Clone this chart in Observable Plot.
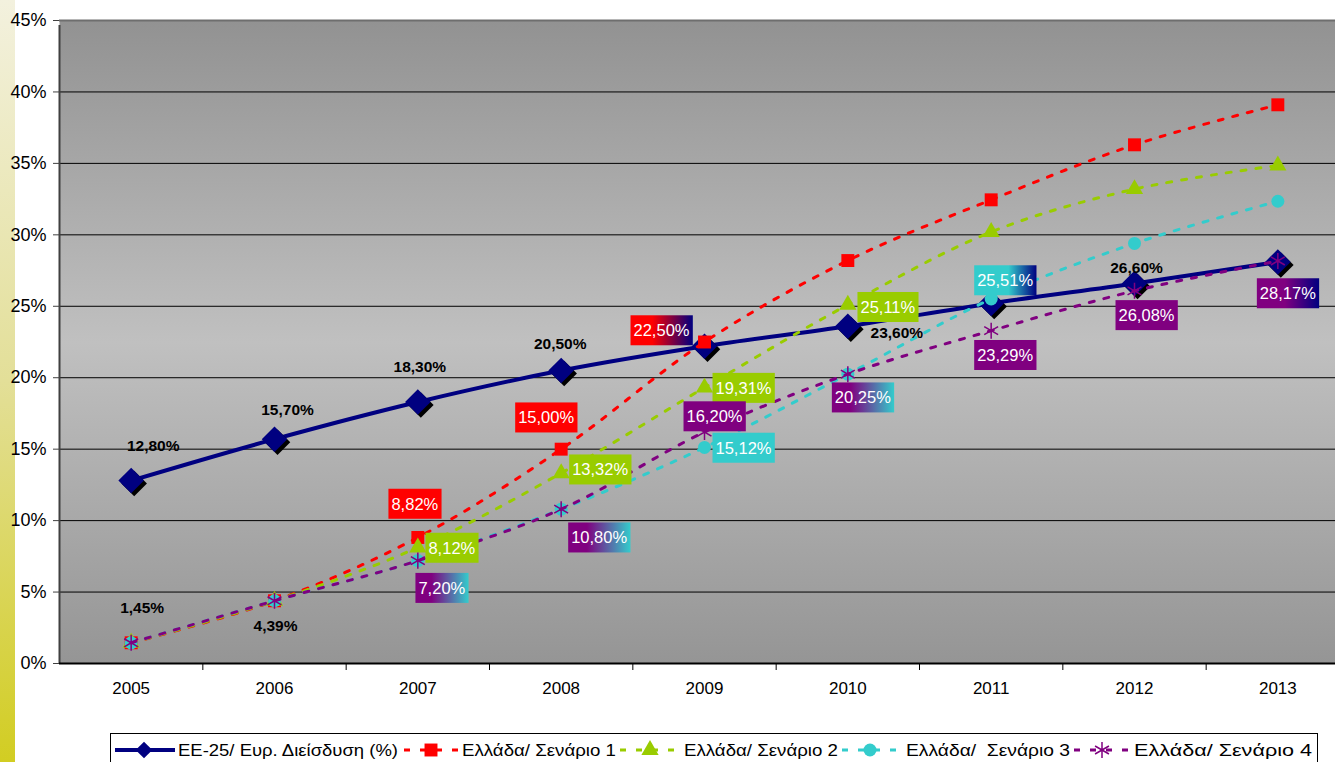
<!DOCTYPE html>
<html><head><meta charset="utf-8">
<script src="https://cdn.jsdelivr.net/npm/d3@7"></script>
<script src="https://cdn.jsdelivr.net/npm/@observablehq/plot@0.6"></script>
<style>
body{margin:0;background:#fff;width:1335px;height:762px;overflow:hidden;position:relative;font-family:"Liberation Sans",Arial,sans-serif}
#strip{position:absolute;left:0;top:0;width:15px;height:762px;background:linear-gradient(#f3f1de,#e3df98 50%,#d2cd22)}
#chart{position:absolute;left:0;top:0;width:1335px;height:730px;overflow:hidden}
#legend{position:absolute;left:110px;top:733px}
</style></head><body>
<div id="strip"></div>
<svg width="0" height="0" style="position:absolute"><defs>
<linearGradient id="bg" x1="0" y1="0" x2="0" y2="1"><stop offset="0" stop-color="#929292"/><stop offset="0.5" stop-color="#c0c0c0"/><stop offset="1" stop-color="#959595"/></linearGradient>
<linearGradient id="g-red-navy" x1="0" y1="0" x2="1" y2="0"><stop offset="0" stop-color="#ff0000"/><stop offset="0.35" stop-color="#ff0000"/><stop offset="1" stop-color="#000080"/></linearGradient>
<linearGradient id="g-purple-cyan" x1="0" y1="0" x2="1" y2="0"><stop offset="0" stop-color="#800080"/><stop offset="0.3" stop-color="#800080"/><stop offset="1" stop-color="#33cccc"/></linearGradient>
<linearGradient id="g-cyan-navy" x1="0" y1="0" x2="1" y2="0"><stop offset="0" stop-color="#33cccc"/><stop offset="0.55" stop-color="#33cccc"/><stop offset="1" stop-color="#000080"/></linearGradient>
<linearGradient id="g-purple-navy" x1="0" y1="0" x2="1" y2="0"><stop offset="0" stop-color="#800080"/><stop offset="0.45" stop-color="#800080"/><stop offset="1" stop-color="#000080"/></linearGradient>
</defs></svg>
<div id="chart"></div>
<div id="legend"></div>
<script>
// ---------- data ----------
const years = [2005, 2006, 2007, 2008, 2009, 2010, 2011, 2012, 2013];
const ee25  = [12.80, 15.70, 18.30, 20.50, 22.20, 23.60, 25.20, 26.60, 28.10];
const scen1 = [1.45, 4.39, 8.82, 15.00, 22.50, 28.20, 32.45, 36.30, 39.10];
const scen2 = [1.45, 4.39, 8.12, 13.32, 19.31, 25.11, 30.20, 33.20, 34.85];
const scen3 = [1.45, 4.39, 7.20, 10.80, 15.12, 20.25, 25.51, 29.40, 32.35];
const scen4 = [1.45, 4.39, 7.20, 10.80, 16.20, 20.25, 23.29, 26.08, 28.17];
const seriesNames = ["ΕΕ-25/ Ευρ. Διείσδυση (%)", "Ελλάδα/ Σενάριο 1", "Ελλάδα/ Σενάριο 2", "Ελλάδα/  Σενάριο 3", "Ελλάδα/ Σενάριο 4"];
const yTicks = [0, 5, 10, 15, 20, 25, 30, 35, 40, 45];
const gridTicks = [5, 10, 15, 20, 25, 30, 35, 40];
const boundaries = [2005.5, 2006.5, 2007.5, 2008.5, 2009.5, 2010.5, 2011.5, 2012.5];

// ---------- styling / placement options ----------
const seriesValues = [ee25, scen1, scen2, scen3, scen4];
const seriesStyle = [
  {color: "#000080", symbol: "diamond2", r: 11.5},
  {color: "#ff0000", symbol: "square", r: 7.3},
  {color: "#99cc00", symbol: "triangle", r: 6.4},
  {color: "#33cccc", symbol: "circle", r: 6.5},
  {color: "#800080", symbol: "asterisk", r: 7.6}
];
// label: [series index, year, dx, dy, box fill or "text"]
const labelSpec = [
  [0, 2005, 22, -35, "text"], [0, 2006, 13, -29, "text"], [0, 2007, 2, -35, "text"],
  [0, 2008, -1, -27, "text"], [0, 2010, 49, 7, "text"], [0, 2012, 2, -15, "text"],
  [4, 2005, 11, -35, "text"], [4, 2006, 1, 25, "text"],
  [1, 2007, -3, -33, "#ff0000"], [1, 2008, -15, -31, "#ff0000"], [1, 2009, -43, -11, "url(#g-red-navy)"],
  [2, 2007, 34, 1, "#99cc00"], [2, 2008, 39, -3, "#99cc00"], [2, 2009, 39, 1, "#99cc00"], [2, 2010, 40, 3, "#99cc00"],
  [3, 2009, 39, 1, "#33cccc"], [3, 2011, 14, -18, "url(#g-cyan-navy)"],
  [4, 2007, 24, 28, "url(#g-purple-cyan)"], [4, 2008, 38, 29, "url(#g-purple-cyan)"], [4, 2010, 15, 24, "url(#g-purple-cyan)"],
  [4, 2009, 10, -15, "#800080"], [4, 2011, 14, 25, "#800080"], [4, 2012, 12, 25, "#800080"],
  [4, 2013, 10, 33, "url(#g-purple-navy)"]
];

const fmt = v => v.toFixed(2).replace(".", ",") + "%";
const table = seriesValues.map(vals => years.map((yr, i) => ({year: yr, value: vals[i]})));

const marks = [
  Plot.frame({fill: "url(#bg)", stroke: "none"}),
  Plot.ruleY(gridTicks, {stroke: "#000", strokeWidth: 1}),
  Plot.ruleY([45], {stroke: "#6e6e6e", strokeWidth: 2}),
  Plot.ruleX([2004.5], {y1: 0, y2: 45, stroke: "#404040", strokeWidth: 2, insetBottom: -5}),
  Plot.ruleY([0], {stroke: "#000", strokeWidth: 2}),
  Plot.axisY(yTicks, {tickSize: 6, tickPadding: 7, fontSize: 18, tickFormat: d => d + "%", stroke: "#404040", label: null}),
  Plot.axisX(boundaries, {tickSize: 7, tickFormat: () => "", stroke: "#000", label: null}),
  Plot.axisX(years, {tickSize: 0, tickPadding: 18, fontSize: 17, tickFormat: d => String(d), label: null})
];

// EE-25 solid series
marks.push(
  Plot.line(table[0], {x: "year", y: "value", stroke: seriesStyle[0].color, strokeWidth: 4, curve: "catmull-rom"}),
  Plot.dot(table[0], {x: "year", y: "value", symbol: "diamond2", r: seriesStyle[0].r, fill: "#000", dx: 3, dy: 3}),
  Plot.dot(table[0], {x: "year", y: "value", symbol: "diamond2", r: seriesStyle[0].r, fill: seriesStyle[0].color})
);
// scenarios
for (let s = 1; s <= 4; s++) {
  const st = seriesStyle[s];
  marks.push(Plot.line(table[s], {x: "year", y: "value", stroke: st.color, strokeWidth: 3, strokeDasharray: "5,10", curve: "catmull-rom"}));
  if (st.symbol === "asterisk") {
    marks.push(Plot.dot(table[s], {x: "year", y: "value", symbol: st.symbol, r: st.r, stroke: st.color, strokeWidth: 1.5}));
  } else {
    marks.push(Plot.dot(table[s], {x: "year", y: "value", symbol: st.symbol, r: st.r, fill: st.color}));
  }
}
// labels
const boxFills = {};
for (const [s, yr, dx, dy, fill] of labelSpec) {
  const i = years.indexOf(yr);
  const d = {year: yr, value: seriesValues[s][i], t: fmt(seriesValues[s][i])};
  const isText = fill === "text";
  if (!isText) boxFills[d.t] = fill;
  marks.push(Plot.text([d], {x: "year", y: "value", text: "t", dx, dy, lineAnchor: "middle",
    fill: isText ? "#000" : "#fff", fontSize: isText ? 15.5 : 16.5, fontWeight: isText ? "bold" : "normal"}));
}

const chart = Plot.plot({
  width: 1349, height: 730,
  marginLeft: 59, marginRight: 0, marginTop: 20, marginBottom: 67,
  style: {background: "transparent", fontFamily: "'Liberation Sans', Arial, sans-serif", color: "#000", overflow: "visible", maxWidth: "none"},
  x: {type: "linear", domain: [2004.5, 2013.5], axis: null, label: null},
  y: {domain: [0, 45], axis: null, label: null},
  marks
});
document.getElementById("chart").appendChild(chart);

// boxes behind boxed labels
chart.querySelectorAll("text").forEach(t => {
  const f = boxFills[t.textContent];
  if (!f) return;
  const b = t.getBBox();
  const cy = b.y + b.height / 2;
  const r = document.createElementNS("http://www.w3.org/2000/svg", "rect");
  r.setAttribute("x", b.x - 3); r.setAttribute("width", b.width + 6);
  r.setAttribute("y", cy - 15); r.setAttribute("height", 30);
  r.setAttribute("fill", f);
  const tr = t.getAttribute("transform");
  if (tr) r.setAttribute("transform", tr);
  t.parentNode.insertBefore(r, t);
});

// ---------- legend ----------
const legendItems = [
  {x1: 5, x2: 65, mx: 34, tx: 68, tw: 220},
  {x1: 294, x2: 348, mx: 321, tx: 352, tw: 154},
  {x1: 510, x2: 570, mx: 540, tx: 574, tw: 154},
  {x1: 732, x2: 788, mx: 760, tx: 796, tw: 164},
  {x1: 964, x2: 1020, mx: 992, tx: 1024, tw: 178}
];
const lg = d3.select("#legend").append("svg").attr("width", 1208).attr("height", 30);
lg.append("rect").attr("x", 0.5).attr("y", 0.5).attr("width", 1207).attr("height", 60).attr("fill", "#fff").attr("stroke", "#000");
const symMap = {diamond2: d3.symbolDiamond2, square: d3.symbolSquare, triangle: d3.symbolTriangle, circle: d3.symbolCircle, asterisk: d3.symbolAsterisk};
legendItems.forEach((it, s) => {
  const st = seriesStyle[s];
  const cy = 17;
  lg.append("line").attr("x1", it.x1).attr("x2", it.x2).attr("y1", cy).attr("y2", cy)
    .attr("stroke", st.color).attr("stroke-width", s === 0 ? 4 : 3)
    .attr("stroke-dasharray", s === 0 ? null : "6,10");
  const size = s === 0 ? Math.PI * 7.5 * 7.5 : Math.PI * st.r * st.r;
  const p = lg.append("path").attr("d", d3.symbol(symMap[st.symbol], size)()).attr("transform", `translate(${it.mx},${cy})`);
  if (st.symbol === "asterisk") p.attr("fill", "none").attr("stroke", st.color).attr("stroke-width", 1.5);
  else p.attr("fill", st.color);
  lg.append("text").attr("x", it.tx).attr("y", cy).attr("dy", "0.36em").attr("font-size", 17)
    .attr("textLength", it.tw).attr("lengthAdjust", "spacingAndGlyphs")
    .attr("font-family", "'Liberation Sans', Arial, sans-serif").attr("xml:space", "preserve").style("white-space", "pre").text(seriesNames[s]);
});
</script>
</body></html>
